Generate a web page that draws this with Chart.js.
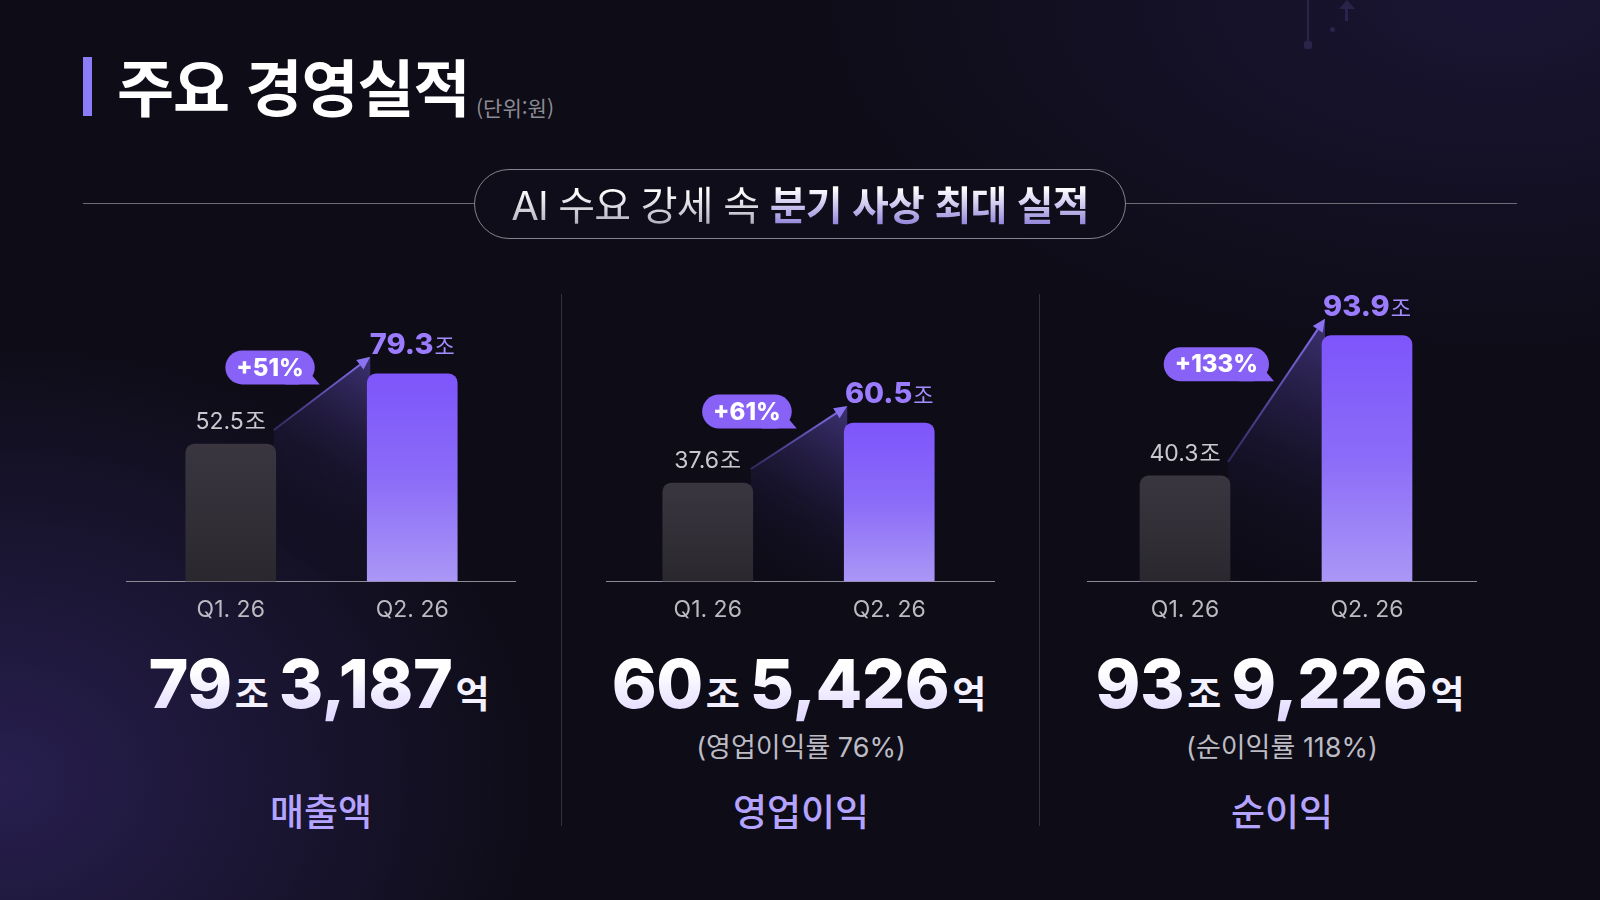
<!DOCTYPE html>
<html lang="ko">
<head>
<meta charset="utf-8">
<title>주요 경영실적</title>
<script src="https://cdn.jsdelivr.net/npm/chart.js@4.4.1/dist/chart.umd.min.js"></script>
<style>
html, body { margin: 0; padding: 0; }
body {
  width: 1600px; height: 900px; overflow: hidden; position: relative;
  background:
    radial-gradient(ellipse 540px 440px at 0px 780px, rgba(48, 37, 98, 0.75), rgba(48, 37, 98, 0) 100%),
    radial-gradient(ellipse 700px 360px at 1500px 0px, rgba(36, 28, 74, 0.55), rgba(36, 28, 74, 0) 100%),
    #0e0c17;
  font-family: Inter, "Noto Sans CJK KR", sans-serif;
  color: #fff;
}
.abs { position: absolute; }
#accent { left: 83px; top: 57px; width: 9px; height: 59px; background: #8c7cf8; }
#title { left: 117px; top: 50px; font-family: "Noto Sans CJK KR"; font-weight: 700; font-size: 62px; line-height: 70px; letter-spacing: -1px; white-space: nowrap; }
#unit { left: 476px; top: 93px; font-family: "Noto Sans CJK KR"; font-size: 21px; line-height: 28px; color: #8d8b93; }
#hline { left: 83px; top: 203px; width: 1434px; height: 1px; background: #6d6b76; }
#pill {
  left: 474px; top: 169px; width: 650px; height: 68px; border: 1px solid #85838d; border-radius: 35px;
  background: #0f0d19; text-align: center; font-family: "Noto Sans CJK KR"; font-size: 40px; line-height: 66px;
  letter-spacing: -0.8px; white-space: nowrap;
}
#pill .lite { background: linear-gradient(#ffffff 20%, #a9a6b8 95%); -webkit-background-clip: text; background-clip: text; color: transparent; font-weight: 400; font-family: Inter, "Noto Sans CJK KR"; }
#pill .bold { background: linear-gradient(#ffffff 25%, #8675d6 95%); -webkit-background-clip: text; background-clip: text; color: transparent; font-weight: 700; }
.divider { top: 294px; width: 1px; height: 532px; background: #35323f; }
.chartBox { top: 249px; height: 390px; }
.total { width: 520px; text-align: center; top: 647px; white-space: nowrap; line-height: 72px; }
.total .num { font-family: Inter; font-weight: 800; font-size: 68px; letter-spacing: -0.5px;
  background: linear-gradient(#ffffff 35%, #ddd3ff 100%); -webkit-background-clip: text; background-clip: text; color: transparent; }
.total .u { font-family: "Noto Sans CJK KR"; font-weight: 600; font-size: 37px; color: #f4f1ff; margin: 0 4px 0 3px; }
.total .u.first { margin-right: 10px; }
.note { width: 400px; text-align: center; top: 733px; font-size: 27px; line-height: 30px; color: #bdbcc4; }
.cat { width: 400px; text-align: center; top: 788px; font-family: "Noto Sans CJK KR"; font-size: 37px; line-height: 44px; color: #b5a4ff; font-weight: 500; }
.deco { background: #29244a; }
</style>
</head>
<body>
<div id="accent" class="abs"></div>
<div id="title" class="abs">주요 경영실적</div>
<div id="unit" class="abs">(단위:원)</div>
<div id="hline" class="abs"></div>
<div id="pill" class="abs"><span class="lite">AI 수요 강세 속 </span><span class="bold">분기 사상 최대 실적</span></div>

<div class="abs deco" style="left:1307px;top:0;width:2px;height:44px;"></div>
<div class="abs deco" style="left:1304px;top:41px;width:8px;height:8px;border-radius:2px;"></div>
<div class="abs deco" style="left:1330px;top:27px;width:5px;height:5px;border-radius:3px;"></div>
<div class="abs deco" style="left:1345px;top:6px;width:3px;height:15px;"></div>
<div class="abs" style="left:1339px;top:0;width:0;height:0;border-left:8px solid transparent;border-right:8px solid transparent;border-bottom:9px solid #29244a;"></div>

<div class="abs divider" style="left:561px"></div>
<div class="abs divider" style="left:1039px"></div>

<div class="abs chartBox" style="left:126px;width:390px"><canvas id="c0" width="390" height="390"></canvas></div>
<div class="abs chartBox" style="left:606px;width:389px"><canvas id="c1" width="389" height="390"></canvas></div>
<div class="abs chartBox" style="left:1087px;width:390px"><canvas id="c2" width="390" height="390"></canvas></div>

<div id="texts"></div>

<script>
// 분기 라벨과 실적 값 (단위: 조 원)
const quarters = ['Q1. 26', 'Q2. 26'];
const revenue = [52.5, 79.3];
const operatingProfit = [37.6, 60.5];
const netProfit = [40.3, 93.9];
const growthLabels = ['+51%', '+61%', '+133%'];
const totalJo = ['79', '60', '93'];
const totalEok = ['3,187', '5,426', '9,226'];
const marginNotes = ['', '(영업이익률 76%)', '(순이익률 118%)'];
const panelTitles = ['매출액', '영업이익', '순이익'];
const yMax = 127;

const seriesList = [revenue, operatingProfit, netProfit];
const panelCenters = [321, 801, 1282];
const padsLR = [[14, 13], [11, 15], [7, 19]];

// 하단 텍스트
var texts = document.getElementById('texts');
panelCenters.forEach(function (cx, i) {
  var t = document.createElement('div');
  t.className = 'abs total';
  t.style.left = (cx - 260) + 'px';
  t.innerHTML = '<span class="num">' + totalJo[i] + '</span><span class="u first">조</span><span class="num">' +
    totalEok[i] + '</span><span class="u">억</span>';
  texts.appendChild(t);
  if (marginNotes[i]) {
    var n = document.createElement('div');
    n.className = 'abs note';
    n.style.left = (cx - 200) + 'px';
    n.textContent = marginNotes[i];
    texts.appendChild(n);
  }
  var c = document.createElement('div');
  c.className = 'abs cat';
  c.style.left = (cx - 200) + 'px';
  c.textContent = panelTitles[i];
  texts.appendChild(c);
});

function barFill(c) {
  var chart = c.chart, area = chart.chartArea;
  if (!area) return c.dataIndex === 0 ? '#322f37' : '#8a66f8';
  var top = chart.scales.y.getPixelForValue(c.raw);
  var g = chart.ctx.createLinearGradient(0, top, 0, area.bottom);
  if (c.dataIndex === 0) {
    g.addColorStop(0, '#3a3640');
    g.addColorStop(1, '#2a282e');
  } else {
    g.addColorStop(0, '#7e55fb');
    g.addColorStop(0.5, '#8b6cf8');
    g.addColorStop(1, '#aa97f6');
  }
  return g;
}

function arrowPts(b0, b1) {
  return {
    sx: b0.x + b0.width / 2 - 2, sy: b0.y - 14,
    ex: b1.x - b1.width / 2 + 3, ey: b1.y - 17
  };
}

function drawLabel(ctx, x, y, num, numFont, numColor, unitFont, unitColor) {
  ctx.font = numFont;
  var w1 = ctx.measureText(num).width;
  ctx.font = unitFont;
  var w2 = ctx.measureText('조').width;
  var left = x - (w1 + w2 + 1) / 2;
  ctx.textBaseline = 'alphabetic';
  ctx.textAlign = 'left';
  ctx.font = numFont; ctx.fillStyle = numColor;
  ctx.fillText(num, left, y);
  ctx.font = unitFont; ctx.fillStyle = unitColor;
  ctx.fillText('조', left + w1 + 1, y);
}

const panelMarks = {
  id: 'panelMarks',
  beforeDatasetsDraw: function (chart) {
    var ctx = chart.ctx, area = chart.chartArea;
    var bars = chart.getDatasetMeta(0).data;
    var p = arrowPts(bars[0], bars[1]);
    ctx.save();
    // 그라데이션 음영
    var g = ctx.createLinearGradient(p.ex, p.ey, p.sx - 10, p.sy + 110);
    g.addColorStop(0, 'rgba(120, 96, 230, 0.45)');
    g.addColorStop(0.55, 'rgba(70, 55, 140, 0.15)');
    g.addColorStop(1, 'rgba(20, 16, 40, 0)');
    ctx.fillStyle = g;
    ctx.beginPath();
    ctx.moveTo(p.sx, p.sy);
    ctx.lineTo(p.ex, p.ey);
    ctx.lineTo(p.ex, area.bottom);
    ctx.lineTo(p.sx, area.bottom);
    ctx.closePath();
    ctx.fill();
    // 기준선
    ctx.strokeStyle = '#8d8b95';
    ctx.lineWidth = 1.2;
    ctx.beginPath();
    ctx.moveTo(0, Math.round(area.bottom) + 0.5);
    ctx.lineTo(chart.width, Math.round(area.bottom) + 0.5);
    ctx.stroke();
    ctx.restore();
  },
  afterDatasetsDraw: function (chart, args, opts) {
    var ctx = chart.ctx;
    var bars = chart.getDatasetMeta(0).data;
    var vals = chart.data.datasets[0].data;
    var p = arrowPts(bars[0], bars[1]);
    ctx.save();
    // 화살표
    var ang = Math.atan2(p.ey - p.sy, p.ex - p.sx);
    var hl = 13, hw = 6;
    var bx = p.ex - Math.cos(ang) * hl, by = p.ey - Math.sin(ang) * hl;
    var lg = ctx.createLinearGradient(p.sx, p.sy, p.ex, p.ey);
    lg.addColorStop(0, 'rgba(110, 90, 210, 0.35)');
    lg.addColorStop(1, '#8a72f0');
    ctx.strokeStyle = lg;
    ctx.lineWidth = 2;
    ctx.beginPath();
    ctx.moveTo(p.sx, p.sy);
    ctx.lineTo(bx, by);
    ctx.stroke();
    ctx.fillStyle = '#8a72f0';
    ctx.beginPath();
    ctx.moveTo(p.ex, p.ey);
    ctx.lineTo(bx + Math.sin(ang) * hw, by - Math.cos(ang) * hw);
    ctx.lineTo(bx - Math.sin(ang) * hw, by + Math.cos(ang) * hw);
    ctx.closePath();
    ctx.fill();

    // 값 라벨
    drawLabel(ctx, bars[0].x, bars[0].y - 15, vals[0].toFixed(1),
      '400 23px Inter, "Noto Sans CJK KR"', '#c9c8ce', '400 23px "Noto Sans CJK KR"', '#c9c8ce');
    drawLabel(ctx, bars[1].x, bars[1].y - 20, vals[1].toFixed(1),
      '800 29px Inter, "Noto Sans CJK KR"', '#9b7cff', '400 22px "Noto Sans CJK KR"', '#a48dff');

    // 증가율 말풍선
    var txt = opts.growth;
    ctx.font = '800 24px Inter, "Noto Sans CJK KR"';
    var tw = ctx.measureText(txt).width;
    var bw = tw + 22, bh = 34;
    var right = bars[0].x + bars[0].width / 2 + 39;
    var cy = (p.sy + p.ey) / 2 - 26;
    var left = right - bw, top = cy - bh / 2, bottom = cy + bh / 2;
    ctx.fillStyle = '#8862f6';
    ctx.beginPath();
    ctx.roundRect(left, top, bw, bh, bh / 2);
    ctx.fill();
    ctx.beginPath();
    ctx.moveTo(right - 30, bottom);
    ctx.lineTo(right + 5, bottom);
    ctx.lineTo(right - 12, bottom - 20);
    ctx.closePath();
    ctx.fill();
    ctx.fillStyle = '#ffffff';
    ctx.textAlign = 'center';
    ctx.textBaseline = 'middle';
    ctx.fillText(txt, left + bw / 2, cy + 1);
    ctx.restore();
  }
};

seriesList.forEach(function (series, i) {
  new Chart(document.getElementById('c' + i), {
    type: 'bar',
    data: {
      labels: quarters,
      datasets: [{
        data: series,
        backgroundColor: barFill,
        borderRadius: 9,
        borderSkipped: 'start',
        barThickness: 90
      }]
    },
    options: {
      responsive: false,
      animation: false,
      layout: { padding: { left: padsLR[i][0], right: padsLR[i][1], top: 0, bottom: 0 } },
      scales: {
        x: {
          grid: { display: false, drawTicks: false },
          border: { display: false },
          ticks: { color: '#bbbac1', padding: 15, font: { family: 'Inter', size: 23 } }
        },
        y: { display: false, min: 0, max: yMax }
      },
      plugins: {
        legend: { display: false },
        tooltip: { enabled: false },
        panelMarks: { growth: growthLabels[i] }
      }
    },
    plugins: [panelMarks]
  });
});
</script>
</body>
</html>
